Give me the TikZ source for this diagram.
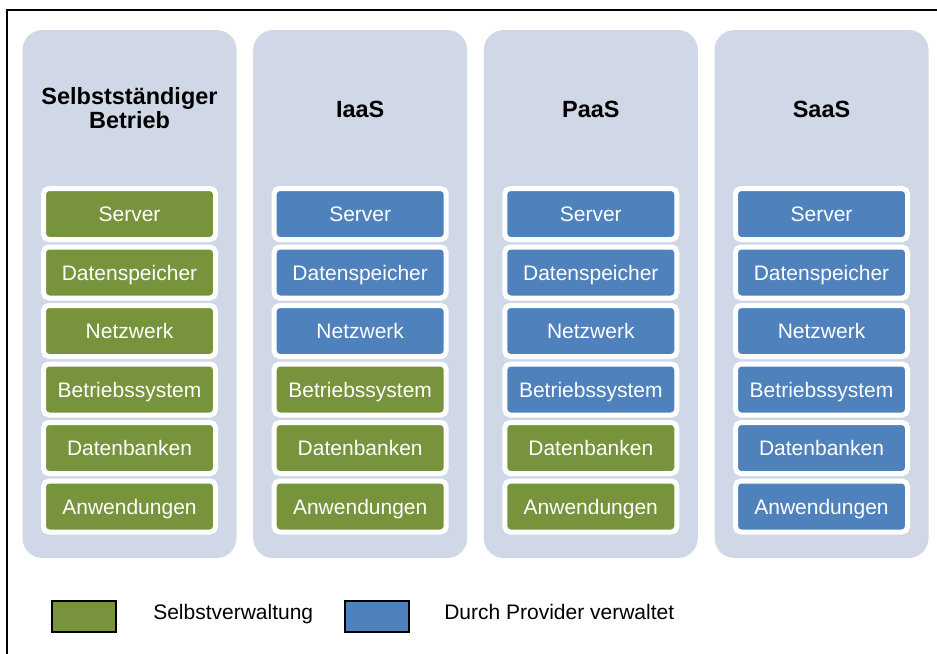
\documentclass[tikz,border=0pt]{standalone}
\usepackage{fontspec}
\setmainfont{Liberation Sans}
\definecolor{colbg}{HTML}{D0D8E8}
\definecolor{selfgreen}{HTML}{77933C}
\definecolor{provblue}{HTML}{4F81BD}
\begin{document}
\begin{tikzpicture}[x=0.75pt,y=-0.75pt,
  colbox/.style={fill=colbg, draw=none, rounded corners=15pt, minimum width=160.5pt, minimum height=396pt, inner sep=0pt},
  layer/.style={draw=white, line width=3.75pt, rounded corners=4pt, minimum width=129pt, minimum height=38.25pt, inner sep=0pt, text height=11.3pt, text depth=0pt, text=white, font=\fontsize{15.75}{18}\selectfont},
  gr/.style={layer, fill=selfgreen},
  bl/.style={layer, fill=provblue},
  title/.style={font=\fontsize{17.6}{18}\selectfont\bfseries, align=center, inner sep=0pt},
  legbox/.style={draw=black, line width=1.5pt, minimum width=48pt, minimum height=23.25pt, inner sep=0pt},
  legtext/.style={font=\fontsize{15.75}{18}\selectfont, anchor=base west, inner sep=0pt}]
\useasboundingbox (0,0) rectangle (937,653);
\fill[white] (0,0) rectangle (937,653);
\draw[line width=1.5pt] (7,660) -- (7,10) -- (945,10);
% columns
\foreach \n/\x in {c1/129.5, c2/360.2, c3/590.8, c4/821.5}{
  \node[colbox] (\n) at (\x,294) {};
}
% titles
\node[title, anchor=base] (t1) at (129.5,128) {Selbstständiger\\Betrieb};
\node[title, anchor=base] (t2) at (360.2,117) {IaaS};
\node[title, anchor=base] (t3) at (590.8,117) {PaaS};
\node[title, anchor=base] (t4) at (821.5,117) {SaaS};
% layers
\foreach \col/\x/\s/\d/\nw/\b/\db/\a in {
  1/129.5/gr/gr/gr/gr/gr/gr,
  2/360.2/bl/bl/bl/gr/gr/gr,
  3/590.8/bl/bl/bl/bl/gr/gr,
  4/821.5/bl/bl/bl/bl/bl/bl}{
  \node[\s]  (srv\col) at (\x,214)   {Server};
  \node[\d]  (dsp\col) at (\x,272.5) {Datenspeicher};
  \node[\nw] (net\col) at (\x,331)   {Netzwerk};
  \node[\b]  (os\col)  at (\x,389.5) {Betriebssystem};
  \node[\db] (db\col)  at (\x,448)   {Datenbanken};
  \node[\a]  (app\col) at (\x,506.5) {Anwendungen};
}
% legend
\node[legbox, fill=selfgreen] (lg) at (84,616.5) {};
\node[legtext] (lgt) at (153,619) {Selbstverwaltung};
\node[legbox, fill=provblue] (lb) at (376.5,616.5) {};
\node[legtext] (lbt) at (444,619) {Durch Provider verwaltet};
\end{tikzpicture}
\end{document}
